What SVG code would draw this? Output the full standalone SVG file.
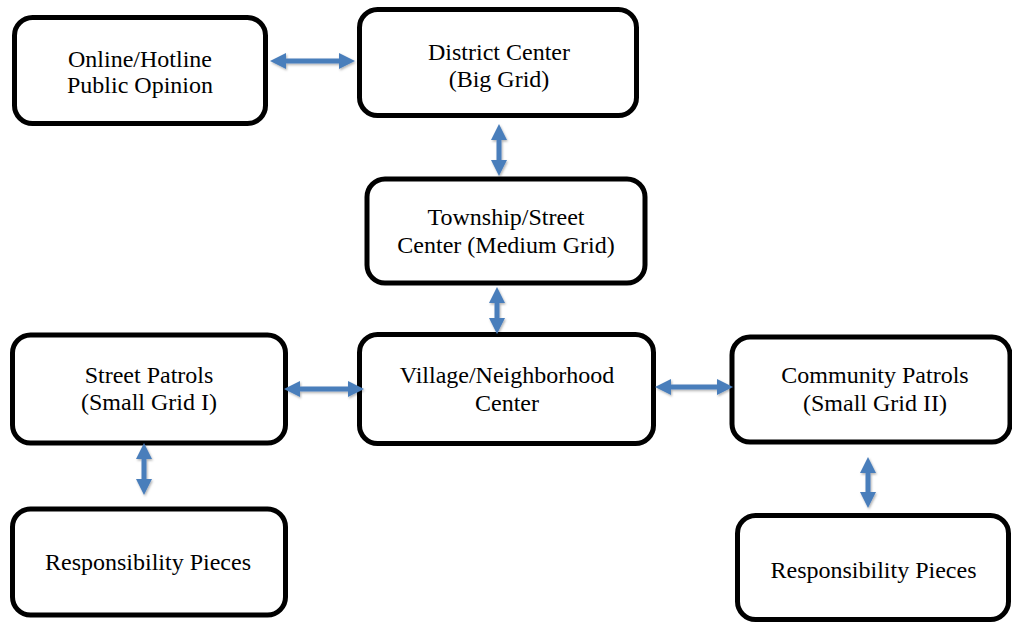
<svg xmlns="http://www.w3.org/2000/svg" width="1012" height="622" viewBox="0 0 1012 622">
<style>
.box{fill:#fff;stroke:#000;stroke-width:5}
.t{font-family:"Liberation Serif","Times New Roman",serif;font-size:24px;fill:#000;text-anchor:middle}
.arr{fill:#4a7ebb;filter:url(#sh)}
</style>
<defs>
<filter id="sh" x="-30%" y="-30%" width="160%" height="160%">
<feDropShadow dx="1" dy="1.5" stdDeviation="1.2" flood-color="#000" flood-opacity="0.3"/>
</filter>
</defs>
<rect width="1012" height="622" fill="#fff"/>
<g id="n-online"><rect class="box" x="14.5" y="17.5" width="251" height="106" rx="18"/><text class="t" x="140" y="67">Online/Hotline</text><text class="t" x="140" y="93">Public Opinion</text></g>
<g id="n-district"><rect class="box" x="359.5" y="9.5" width="277" height="106" rx="18"/><text class="t" x="499" y="60">District Center</text><text class="t" x="499" y="87">(Big Grid)</text></g>
<g id="n-township"><rect class="box" x="367" y="179" width="278" height="104" rx="18"/><text class="t" x="506" y="225">Township/Street</text><text class="t" x="506" y="253">Center (Medium Grid)</text></g>
<g id="n-village"><rect class="box" x="359.5" y="334.5" width="294" height="109" rx="18"/><text class="t" x="507" y="383">Village/Neighborhood</text><text class="t" x="507" y="411">Center</text></g>
<g id="n-street"><rect class="box" x="12.5" y="335" width="273" height="108" rx="18"/><text class="t" x="149" y="383">Street Patrols</text><text class="t" x="149" y="410">(Small Grid I)</text></g>
<g id="n-resp1"><rect class="box" x="12.5" y="509" width="273" height="106" rx="18"/><text class="t" x="148" y="570">Responsibility Pieces</text></g>
<g id="n-community"><rect class="box" x="732" y="337" width="278" height="105" rx="18"/><text class="t" x="875" y="383">Community Patrols</text><text class="t" x="875" y="411">(Small Grid II)</text></g>
<g id="n-resp2"><rect class="box" x="737.5" y="515.5" width="271" height="104" rx="18"/><text class="t" x="873.5" y="578">Responsibility Pieces</text></g>
<g id="connectors">
<polygon class="arr" points="270,61 286,53 286,58.5 339,58.5 339,53 355,61 339,69 339,63.5 286,63.5 286,69"/>
<polygon class="arr" points="499,124 491,140 496.5,140 496.5,160 491,160 499,176 507,160 501.5,160 501.5,140 507,140"/>
<polygon class="arr" points="497,287 489,303 494.5,303 494.5,318 489,318 497,334 505,318 499.5,318 499.5,303 505,303"/>
<polygon class="arr" points="284,389 300,381 300,386.5 348,386.5 348,381 364,389 348,397 348,391.5 300,391.5 300,397"/>
<polygon class="arr" points="144,443 136,459 141.5,459 141.5,479 136,479 144,495 152,479 146.5,479 146.5,459 152,459"/>
<polygon class="arr" points="655,387 671,379 671,384.5 717,384.5 717,379 733,387 717,395 717,389.5 671,389.5 671,395"/>
<polygon class="arr" points="868,457 860,473 865.5,473 865.5,492 860,492 868,508 876,492 870.5,492 870.5,473 876,473"/>
</g>
</svg>
